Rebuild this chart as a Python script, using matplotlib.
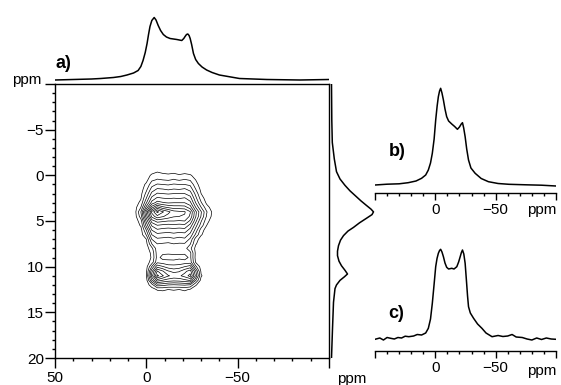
#!/usr/bin/env python3
"""
2D exchange NMR spectrum (a) with projections, plus 1D slices (b) and (c).
"""

import numpy as np
import matplotlib.pyplot as plt

# ---- data ------------------------------------------------------------
# 2D contour grid: F2 (x, ppm) columns, F1 (y, ppm) rows, values in contour-level units
grid_x = [6, 3, 0, -3, -6, -9, -12, -15, -18, -21, -24, -27, -30, -33, -36, -39]
grid_y = [-1.0, -0.5, 0.0, 0.5, 1.0, 1.5, 2.0, 2.5, 3.0, 3.5, 4.0, 4.5, 5.0, 5.5,
          6.0, 6.5, 7.0, 7.5, 8.0, 8.5, 9.0, 9.5, 10.0, 10.5, 11.0, 11.5, 12.0,
          12.5, 13.0]
grid_z = [
    [0, 0, 0, 0, 0, 0, 0, 0, 0, 0, 0, 0, 0, 0, 0, 0],
    [0, 0, 0, 0, 0.3, 0.1, 0, 0, 0, 0, 0, 0, 0, 0, 0, 0],
    [0, 0, 0, 0.7, 1.0, 0.8, 0.7, 0.9, 0.6, 0.8, 0.6, 0.2, 0, 0, 0, 0],
    [0, 0, 0.2, 1.3, 1.6, 1.5, 1.4, 1.6, 1.4, 1.6, 1.4, 0.5, 0, 0, 0, 0],
    [0, 0, 0.7, 2.1, 2.6, 2.5, 2.4, 2.6, 2.5, 2.5, 2.3, 0.9, 0, 0, 0, 0],
    [0, 0, 1.2, 2.9, 3.6, 3.5, 3.3, 3.5, 3.4, 3.6, 3.1, 1.5, 0.2, 0, 0, 0],
    [0, 0.2, 1.8, 3.8, 4.6, 4.5, 4.4, 4.5, 4.5, 4.5, 4.0, 2.2, 0.5, 0, 0, 0],
    [0, 0.4, 2.5, 4.8, 5.7, 5.5, 5.4, 5.5, 5.4, 5.6, 4.9, 2.8, 1.0, 0, 0, 0],
    [0, 0.8, 3.4, 5.9, 6.9, 6.6, 6.4, 6.5, 6.5, 6.5, 5.8, 3.5, 1.6, 0.3, 0, 0],
    [0.2, 1.5, 4.8, 8.0, 9.8, 8.8, 8.3, 8.0, 8.0, 7.9, 7.0, 4.5, 2.5, 0.9, 0.1, 0],
    [0.3, 2.5, 6.8, 10.8, 12.8, 11.6, 10.8, 9.9, 9.7, 9.6, 8.6, 5.8, 3.6, 1.6, 0.4, 0],
    [0.2, 2.0, 6.0, 9.8, 11.2, 10.6, 10.1, 9.6, 9.5, 9.4, 8.3, 5.6, 3.4, 1.4, 0.3, 0],
    [0, 1.0, 4.8, 8.0, 8.9, 8.7, 8.5, 8.5, 8.4, 8.5, 7.3, 4.8, 2.6, 0.9, 0, 0],
    [0, 0.6, 3.8, 6.6, 7.4, 7.2, 7.1, 7.2, 7.1, 7.2, 6.1, 3.9, 2.0, 0.5, 0, 0],
    [0, 0.1, 2.5, 5.5, 6.3, 6.1, 6.0, 6.1, 6.0, 6.1, 5.1, 3.1, 1.0, 0, 0, 0],
    [0, 0, 1.6, 4.5, 5.2, 5.1, 5.0, 5.2, 5.0, 5.1, 4.2, 2.3, 0.6, 0, 0, 0],
    [0, 0, 0.5, 3.5, 4.3, 4.2, 4.1, 4.3, 4.1, 4.3, 3.3, 1.0, 0, 0, 0, 0],
    [0, 0, 0.2, 2.5, 3.5, 3.4, 3.3, 3.5, 3.4, 3.4, 2.6, 0.6, 0, 0, 0, 0],
    [0, 0, 0, 1.2, 3.1, 2.9, 2.8, 3.0, 2.9, 2.9, 1.8, 0.2, 0, 0, 0, 0],
    [0, 0, 0, 0.7, 3.0, 2.7, 2.6, 2.8, 2.6, 2.7, 2.8, 0.3, 0, 0, 0, 0],
    [0, 0, 0, 0.6, 2.9, 2.1, 2.2, 1.9, 2.3, 2.0, 2.8, 0.2, 0, 0, 0, 0],
    [0, 0, 0, 0.9, 3.2, 3.0, 2.8, 3.0, 2.9, 3.0, 3.0, 0.4, 0, 0, 0, 0],
    [0, 0, 0.1, 2.6, 5.2, 4.6, 4.0, 3.8, 4.0, 4.5, 5.0, 1.8, 0, 0, 0, 0],
    [0, 0, 0.3, 4.2, 7.6, 6.6, 5.6, 5.2, 5.4, 6.2, 7.0, 3.6, 0.3, 0, 0, 0],
    [0, 0, 0.4, 5.0, 8.8, 7.6, 6.6, 6.2, 6.3, 6.9, 7.9, 4.3, 0.6, 0, 0, 0],
    [0, 0, 0.1, 3.4, 6.0, 5.4, 5.0, 4.8, 4.9, 5.2, 5.6, 2.6, 0.1, 0, 0, 0],
    [0, 0, 0, 1.0, 3.0, 2.8, 2.5, 2.4, 2.5, 2.6, 2.4, 0.6, 0, 0, 0, 0],
    [0, 0, 0, 0.1, 0.6, 0.7, 0.5, 0.6, 0.5, 0.7, 0.4, 0, 0, 0, 0, 0],
    [0, 0, 0, 0, 0, 0, 0, 0, 0, 0, 0, 0, 0, 0, 0, 0],
]

# F2 projection (top)
top_ppm = [50, 40, 30, 25, 18, 14, 10.6, 7, 4.5, 3, 1.8, 0.6, -0.4, -1.2, -2, -3,
           -4.3, -5.3, -6.5, -7.8, -9.3, -11, -13, -16.7, -19.4, -20.5, -21.2,
           -22, -22.7, -23.4, -24, -24.8, -25.8, -27, -28.5, -30.5, -33, -36,
           -40, -51, -66, -84, -100]
top_int = [0.5, 1, 1.5, 2, 3, 4, 5.5, 7.5, 10, 14, 20, 28, 37, 46, 54, 60,
           63, 60.5, 55, 50, 46, 43.5, 42, 41, 40, 42, 44,
           46, 46.5, 45, 42, 36, 27, 21, 17, 13.5, 10.5, 8,
           5.5, 2, 1, 0.5, 1]

# F1 projection (right)
side_ppm = [-10, -6, -3.6, -1.8, -0.4, 0.4, 1.1, 1.7, 2.2, 2.8, 3.3, 3.7, 4.0,
            4.3, 4.7, 5.2, 5.7, 6.1, 6.6, 7.1, 7.7, 8.3, 8.8, 9.4, 9.9, 10.4,
            10.8, 11.1, 11.5, 12.0, 12.4, 13.9, 16.8, 20]
side_int = [0, 0.3, 0.8, 2.8, 5, 8.5, 13.5, 18.5, 23.5, 29.5, 35, 39.5, 42,
            40.5, 35, 28, 22, 16.5, 12, 9, 7, 6, 6, 7.5, 10, 13.5,
            16, 13, 8.5, 5, 3.5, 2, 1, 0]

# 1D spectrum b)
b_ppm = [50, 40, 30, 22.5, 16, 11.4, 8, 5.8, 4, 2.5, 1, -0.3, -1.5, -2.5, -3.5,
         -4.4, -5.5, -6.7, -8, -9.4, -11, -13.6, -16, -18.3, -20, -21.5, -22.5,
         -23.5, -24.7, -26, -27.5, -29.5, -33, -38, -44, -52, -61, -75, -88, -100]
b_int = [1, 1.8, 2.2, 3.3, 5, 7.7, 11, 16, 23, 32.7, 47, 66, 80, 89.3, 95,
         97.7, 93, 86, 77, 69.3, 65, 62, 59.5, 56.7, 59, 62, 63.3,
         58, 49.3, 37, 26, 18, 12.7, 7.5, 4.3, 2.5, 1.7, 1.2, 0.8, 0]

# 1D spectrum c)
c_ppm = [50, 46, 43, 40, 37, 34, 31, 28, 25, 22, 18, 15, 11.4, 8, 5.8, 4, 2.5,
         1, -0.3, -1.4, -2.5, -3.5, -4.4, -5.5, -6.7, -8, -9.4, -11, -13.6,
         -15.5, -17.8, -19.3, -20.6, -21.6, -22.5, -23.6, -24.7, -25.8, -26.7,
         -27.5, -29, -31.7, -35, -38.6, -42, -47, -52, -56, -60, -63.6, -67,
         -72, -76, -80, -84, -88, -92, -96, -100]
c_int = [1.7, 3, 1, 3.5, 2.7, 2, 3.5, 3, 4.8, 4.3, 5, 6.5, 6, 8, 12.7, 22, 37.7,
         57, 74.3, 82.5, 87.7, 90.5, 91.7, 89, 84.3, 78, 73.7, 72, 72.7,
         72, 74.3, 79, 84.3, 88.5, 91, 87, 77.7, 60, 45,
         34.3, 28, 22.7, 17, 12.7, 8, 4.3, 5.5, 4.5, 5, 6.5, 4,
         3.5, 2, 1, 3, 1.5, 3, 2, 1.7]

OUTPUT_FILE = "out.png"
W, H = 561, 385
FONT = ["Liberation Sans", "DejaVu Sans"]
FS = 11


def box(x0, y0, x1, y1):
    """Pixel box (top-left origin) -> figure fraction rect."""
    return [x0 / W, 1 - y1 / H, (x1 - x0) / W, (y1 - y0) / H]


def ftext(x, y, s, **kw):
    plt.gcf().text(x / W, 1 - y / H, s, family=FONT, **kw)


def spectrum_axis(ax):
    ax.set_xlim(50, -100)
    for side in ("top", "left", "right"):
        ax.spines[side].set_visible(False)
    ax.spines["bottom"].set_linewidth(1.0)
    ax.set_yticks([])
    ax.set_xticks([50, 0, -50, -100])
    ax.set_xticklabels(["", "0", "\u221250", ""])
    ax.set_xticks(np.arange(-100, 51, 10), minor=True)
    ax.tick_params(axis="x", which="major", direction="out", length=5, width=1,
                   labelsize=FS, pad=2.5)
    ax.tick_params(axis="x", which="minor", direction="out", length=2.5, width=1)
    ax.patch.set_visible(False)


def main():
    plt.rcParams["font.family"] = FONT
    fig = plt.figure(figsize=(W / 100, H / 100), dpi=100)

    # main 2D panel
    ax = fig.add_axes(box(55, 84, 329, 358))
    X, Y = np.meshgrid(grid_x, grid_y)
    ax.contour(X, Y, np.array(grid_z), levels=np.arange(0.5, 13, 1.0),
               colors="k", linewidths=0.5)
    ax.set_xlim(50, -100)
    ax.set_ylim(20, -10)
    ax.set_xticks([50, 0, -50, -100])
    ax.set_xticklabels(["50", "0", "\u221250", ""])
    ax.set_xticks(np.arange(-100, 51, 10), minor=True)
    ax.set_yticks([-10, -5, 0, 5, 10, 15, 20])
    ax.set_yticklabels(["", "\u22125", "0", "5", "10", "15", "20"])
    ax.set_yticks(np.arange(-10, 21, 1), minor=True)
    ax.tick_params(which="major", direction="out", length=7, width=1,
                   labelsize=FS, pad=1)
    ax.tick_params(which="minor", direction="out", length=2.5, width=1)
    ax.tick_params(axis="x", pad=2)
    for s in ax.spines.values():
        s.set_linewidth(1.0)

    # top projection
    axt = fig.add_axes(box(55, 10, 329, 83))
    axt.plot(top_ppm, top_int, color="k", lw=1.1)
    axt.set_xlim(50, -100)
    axt.set_ylim(-2.5, 70.5)
    axt.axis("off")

    # right projection
    axr = fig.add_axes(box(329, 84, 380, 358))
    axr.plot(side_int, side_ppm, color="k", lw=1.1)
    axr.set_xlim(-2.5, 48.5)
    axr.set_ylim(20, -10)
    axr.axis("off")

    # panel b
    axb = fig.add_axes(box(375, 82, 556, 193))
    axb.plot(b_ppm, b_int, color="k", lw=1.1)
    axb.set_ylim(-7, 104)
    spectrum_axis(axb)

    # panel c
    axc = fig.add_axes(box(375, 240, 556, 351))
    axc.plot(c_ppm, c_int, color="k", lw=1.1)
    axc.set_ylim(-10, 101)
    spectrum_axis(axc)

    # labels
    ftext(27, 80, "ppm", fontsize=FS, ha="center", va="center")
    ftext(352, 379, "ppm", fontsize=FS, ha="center", va="center")
    ftext(542, 210, "ppm", fontsize=FS, ha="center", va="center")
    ftext(542, 371, "ppm", fontsize=FS, ha="center", va="center")
    ftext(63, 63, "a)", fontsize=13, weight="bold", ha="center", va="center")
    ftext(397, 152, "b)", fontsize=13, weight="bold", ha="center", va="center")
    ftext(396, 313, "c)", fontsize=13, weight="bold", ha="center", va="center")

    fig.savefig(OUTPUT_FILE, dpi=100)
    print(f"Chart saved to {OUTPUT_FILE}")


if __name__ == "__main__":
    main()
